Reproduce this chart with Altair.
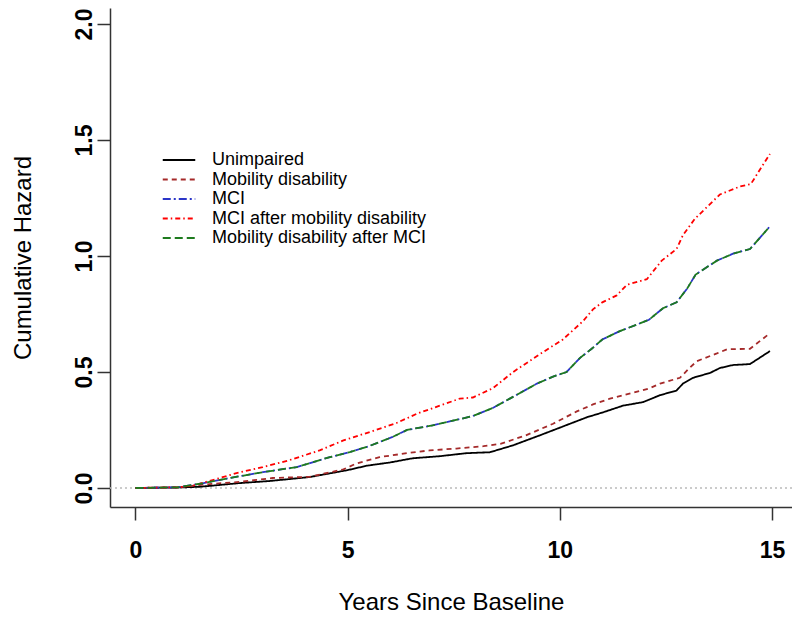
import altair as alt
import pandas as pd

# ---- data ----
series_names = [
    "Unimpaired",
    "Mobility disability",
    "MCI",
    "MCI after mobility disability",
    "Mobility disability after MCI",
]

t_unimpaired = [0, 1.0, 1.5, 1.75, 2.45, 3.16, 4.1, 5.0, 5.45, 6.0, 6.53, 7.17, 7.8, 8.35, 8.9,
                9.53, 10.0, 10.24, 10.64, 11.0, 11.49, 11.96, 12.36, 12.75, 12.9, 13.14, 13.54,
                13.77, 14.08, 14.48, 14.95]
h_unimpaired = [0, 0.002, 0.005, 0.009, 0.021, 0.03, 0.047, 0.077, 0.096, 0.11, 0.128, 0.137,
                0.15, 0.154, 0.184, 0.227, 0.26, 0.277, 0.305, 0.325, 0.355, 0.37, 0.40, 0.42,
                0.45, 0.475, 0.496, 0.517, 0.53, 0.534, 0.59]

t_mobility = [0, 1.0, 1.27, 1.75, 2.45, 3.23, 4.1, 4.9, 5.2, 5.75, 6.4, 6.93, 7.56, 8.2, 8.6,
              9.2, 9.84, 10.4, 10.78, 11.18, 11.72, 12.12, 12.36, 12.83, 13.07, 13.23, 13.7,
              13.94, 14.48, 14.95]
h_mobility = [0, 0.003, 0.008, 0.017, 0.026, 0.043, 0.048, 0.08, 0.105, 0.133, 0.15, 0.162,
              0.17, 0.18, 0.19, 0.227, 0.277, 0.33, 0.36, 0.385, 0.41, 0.43, 0.45, 0.475, 0.52,
              0.547, 0.58, 0.598, 0.60, 0.667]

t_mci = [0, 1.0, 1.58, 2.22, 3.0, 3.8, 4.58, 5.05, 5.5, 6.06, 6.4, 7.0, 7.48, 7.95, 8.42, 8.82,
         9.46, 9.84, 10.16, 10.47, 10.75, 11.0, 11.4, 11.82, 12.1, 12.43, 12.75, 13.0, 13.2,
         13.7, 14.08, 14.48, 14.93]
h_mci = [0, 0.003, 0.02, 0.043, 0.068, 0.09, 0.133, 0.155, 0.18, 0.22, 0.25, 0.27, 0.29, 0.31,
         0.345, 0.385, 0.45, 0.48, 0.50, 0.56, 0.60, 0.64, 0.675, 0.705, 0.725, 0.775, 0.80,
         0.86, 0.92, 0.98, 1.01, 1.03, 1.124]

t_mci_after_mob = [0, 1.0, 1.35, 1.82, 2.38, 3.0, 3.63, 4.34, 4.9, 5.5, 6.15, 6.63, 7.17, 7.64,
                   7.95, 8.42, 8.9, 9.53, 10.07, 10.55, 10.78, 11.0, 11.34, 11.58, 12.05, 12.4,
                   12.75, 12.9, 13.18, 13.77, 14.25, 14.5, 14.95]
h_mci_after_mob = [0, 0.003, 0.01, 0.034, 0.064, 0.09, 0.12, 0.162, 0.205, 0.24, 0.28, 0.32,
                   0.355, 0.385, 0.39, 0.43, 0.50, 0.577, 0.64, 0.72, 0.77, 0.80, 0.83, 0.876,
                   0.90, 0.98, 1.03, 1.09, 1.16, 1.265, 1.30, 1.31, 1.44]

t_mob_after_mci = [0, 1.0, 1.58, 2.22, 3.0, 3.8, 4.58, 5.05, 5.5, 6.06, 6.4, 7.0, 7.48, 7.95,
                   8.42, 8.82, 9.46, 9.84, 10.16, 10.47, 10.75, 11.0, 11.4, 11.82, 12.1, 12.43,
                   12.75, 13.0, 13.2, 13.7, 14.08, 14.48, 14.93]
h_mob_after_mci = [0, 0.003, 0.02, 0.043, 0.068, 0.09, 0.133, 0.155, 0.18, 0.22, 0.25, 0.27,
                   0.29, 0.31, 0.345, 0.385, 0.45, 0.48, 0.50, 0.56, 0.60, 0.64, 0.675, 0.705,
                   0.725, 0.775, 0.80, 0.86, 0.92, 0.98, 1.01, 1.03, 1.124]

x_ticks = [0, 5, 10, 15]
y_ticks = [0.0, 0.5, 1.0, 1.5, 2.0]

colors = ["#000000", "#A52A2A", "#2B35C8", "#FF0000", "#1E7B1E"]
dashes = [[1, 0], [5, 4], [8, 3, 2, 3], [5, 3, 1.5, 3], [8, 4]]

# ---- build table ----
all_t = [t_unimpaired, t_mobility, t_mci, t_mci_after_mob, t_mob_after_mci]
all_h = [h_unimpaired, h_mobility, h_mci, h_mci_after_mob, h_mob_after_mci]
rows = []
for name, ts, hs in zip(series_names, all_t, all_h):
    for t, h in zip(ts, hs):
        rows.append({"series": name, "t": t, "h": h})
df = pd.DataFrame(rows)

FONT = "Liberation Sans"

x_enc = alt.X("t:Q",
              scale=alt.Scale(domain=[-0.6, 15.47], nice=False, zero=False),
              axis=alt.Axis(values=x_ticks, title="Years Since Baseline", format="d",
                            labelFontWeight="bold", labelFontSize=23, labelFont=FONT,
                            labelPadding=19, titleFont=FONT, titleFontSize=24,
                            titleFontWeight="normal", titlePadding=28, grid=False,
                            tickSize=13, labelColor="#000000", titleColor="#000000"))
y_enc = alt.Y("h:Q",
              scale=alt.Scale(domain=[-0.082, 2.069], nice=False, zero=False),
              axis=alt.Axis(values=y_ticks, title="Cumulative Hazard", format=".1f",
                            labelFontWeight="bold", labelFontSize=23, labelFont=FONT,
                            labelAngle=270, labelPadding=1, titleFont=FONT, titleFontSize=24,
                            titleFontWeight="normal", titlePadding=38, grid=False,
                            tickSize=13, labelColor="#000000", titleColor="#000000"))

legend_kw = dict(title=None, orient="none", legendX=60, legendY=143,
                 symbolType="M-2.5,0H2.5", symbolSize=169, symbolStrokeWidth=1.8,
                 labelFont=FONT, labelFontSize=18, labelOffset=24, labelLimit=500,
                 rowPadding=1.5, padding=0, labelColor="#000000")

color_enc = alt.Color("series:N", scale=alt.Scale(domain=series_names, range=colors),
                      legend=alt.Legend(**legend_kw))
dash_enc = alt.StrokeDash("series:N", scale=alt.Scale(domain=series_names, range=dashes),
                          legend=alt.Legend(**legend_kw))

zero_line = alt.Chart(pd.DataFrame({"z": [0]})).mark_rule(
    color="#BBBBBB", strokeDash=[2, 3], strokeWidth=1.5
).encode(y=alt.Y("z:Q"))

layers = [zero_line]
for name in series_names:
    layers.append(
        alt.Chart(df[df["series"] == name]).mark_line(strokeWidth=1.8, clip=True).encode(
            x=x_enc, y=y_enc, color=color_enc, strokeDash=dash_enc,
            order=alt.Order("t:Q"))
    )

chart = alt.layer(*layers).properties(
    width=682, height=499,
    autosize=alt.AutoSizeParams(type="none"),
    padding={"left": 102, "top": 0, "right": 0, "bottom": 108},
).configure_view(stroke=None).configure_axis(
    domainColor="#333333", tickColor="#333333", domainWidth=1.5, tickWidth=1.5
)

chart.save("out.html", embed_options={"renderer": "svg", "actions": False})
